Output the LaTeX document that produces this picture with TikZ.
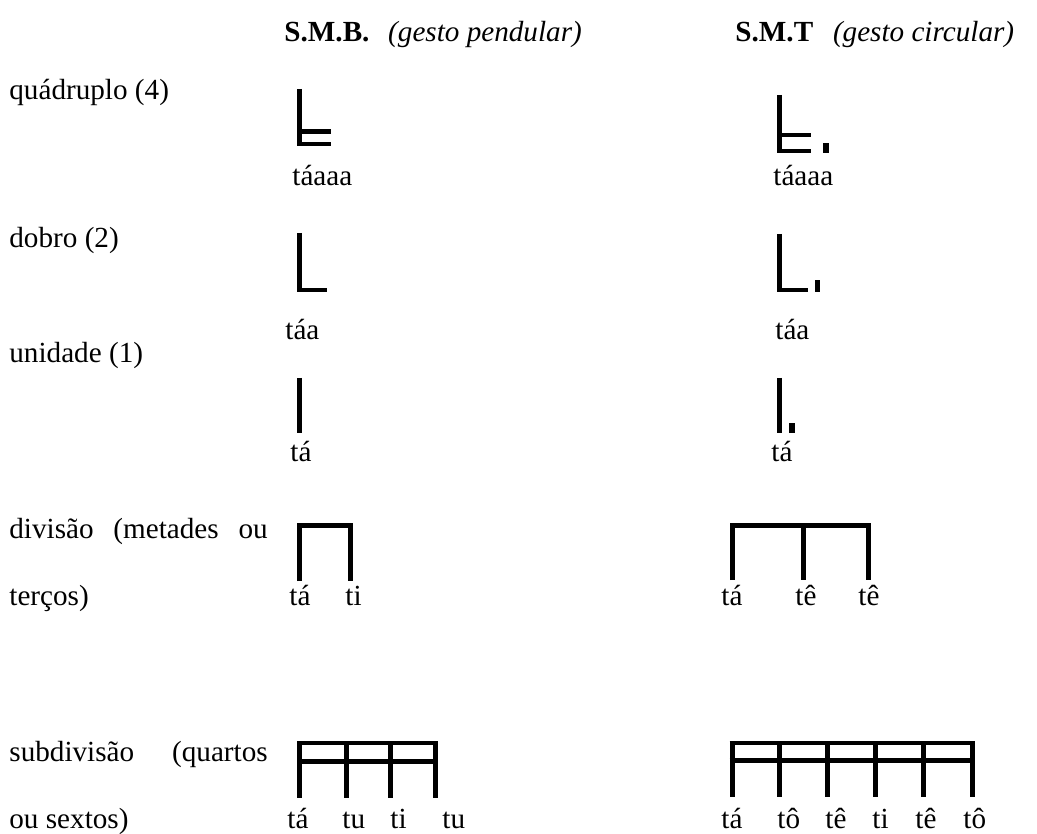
\documentclass[tikz,border=0pt]{standalone}
\usepackage{fontspec}
\setmainfont{Liberation Serif}
\begin{document}
\begin{tikzpicture}[x=0.48pt,y=-0.48pt,
  txt/.style={anchor=base west, inner sep=0pt, font=\fontsize{14}{16}\selectfont},
  stem/.style={line width=2.4pt, line cap=butt},
  bar/.style={line width=2.1pt, line cap=butt},
  frame/.style={line width=2.4pt, line cap=butt, line join=miter},
  dot/.style={fill=black, draw=none}]
\useasboundingbox (0,0) rectangle (1037,834);

% column headings
\node[txt] (hB) at (284,42) {\textbf{S.M.B.}\hspace{9pt}\textit{(gesto pendular)}};
\node[txt] (hT) at (735,42) {\textbf{S.M.T}\hspace{9.5pt}\textit{(gesto circular)}};

% row captions (the wrapped lines are justified to the column width)
\node[txt] (r1) at (9,100)  {quádruplo (4)};
\node[txt] (r2) at (9,247) {dobro (2)};
\node[txt] (r3) at (9,362) {unidade (1)};
\node[txt] (r4) at (9,539) {\makebox[124pt][s]{divisão (metades ou}};
\node[txt] (r4b) at (9,606) {terços)};
\node[txt] (r5) at (9,761) {\makebox[124pt][s]{subdivisão (quartos}};
\node[txt] (r5b) at (9,828) {ou sextos)};

% quadruple
\draw[stem] (299.5,89) -- (299.5,146);
\draw[bar] (297,131.5) -- (331,131.5);
\draw[bar] (297,144) -- (331,144);
\node[txt] (q1) at (292,186) {táaaa};
\draw[stem] (779.5,95) -- (779.5,153);
\draw[bar] (777,135) -- (811,135);
\draw[bar] (777,151) -- (811,151);
\fill[dot] (823,143) rectangle (829,153);
\node[txt] (q2) at (773,186) {táaaa};

% double
\draw[stem] (299.5,233) -- (299.5,292);
\draw[bar] (297,289.7) -- (327,289.7);
\node[txt] (d1) at (285,339) {táa};
\draw[stem] (779.5,234) -- (779.5,292);
\draw[bar] (777,289.7) -- (808,289.7);
\fill[dot] (815,280) rectangle (820,292);
\node[txt] (d2) at (775,339) {táa};

% unit
\draw[stem] (299.5,378) -- (299.5,433);
\node[txt] (u1) at (290,462) {tá};
\draw[stem] (779.5,378) -- (779.5,433);
\fill[dot] (789,423) rectangle (795,433);
\node[txt] (u2) at (771,462) {tá};

% division
\draw[frame] (299.5,581) -- (299.5,525.5) -- (350.5,525.5) -- (350.5,581);
\node[txt] (v1a) at (289,606) {tá};
\node[txt] (v1b) at (345,606) {ti};
\draw[frame] (732,580) -- (732,525.5) -- (868,525.5) -- (868,580);
\draw[stem] (803,525.5) -- (803,580);
\node[txt] (v2a) at (721,606) {tá};
\node[txt] (v2b) at (795,606) {tê};
\node[txt] (v2c) at (858,606) {tê};

% subdivision
\foreach \x in {299.5,346.5,390.5,435.5}
  \draw[stem] (\x,741) -- (\x,798);
\draw[bar] (297,743) -- (438,743);
\draw[bar] (297,761.5) -- (438,761.5);
\node[txt] (s1a) at (287,828) {tá};
\node[txt] (s1b) at (342,828) {tu};
\node[txt] (s1c) at (390,828) {ti};
\node[txt] (s1d) at (442,828) {tu};
\foreach \x in {732,779.5,827,875,923,972}
  \draw[stem] (\x,741) -- (\x,797);
\draw[bar] (729.5,743) -- (974.5,743);
\draw[bar] (729.5,760.5) -- (974.5,760.5);
\node[txt] (s2a) at (721,828) {tá};
\node[txt] (s2b) at (777,828) {tô};
\node[txt] (s2c) at (825,828) {tê};
\node[txt] (s2d) at (872,828) {ti};
\node[txt] (s2e) at (915,828) {tê};
\node[txt] (s2f) at (963,828) {tô};
\end{tikzpicture}
\end{document}
